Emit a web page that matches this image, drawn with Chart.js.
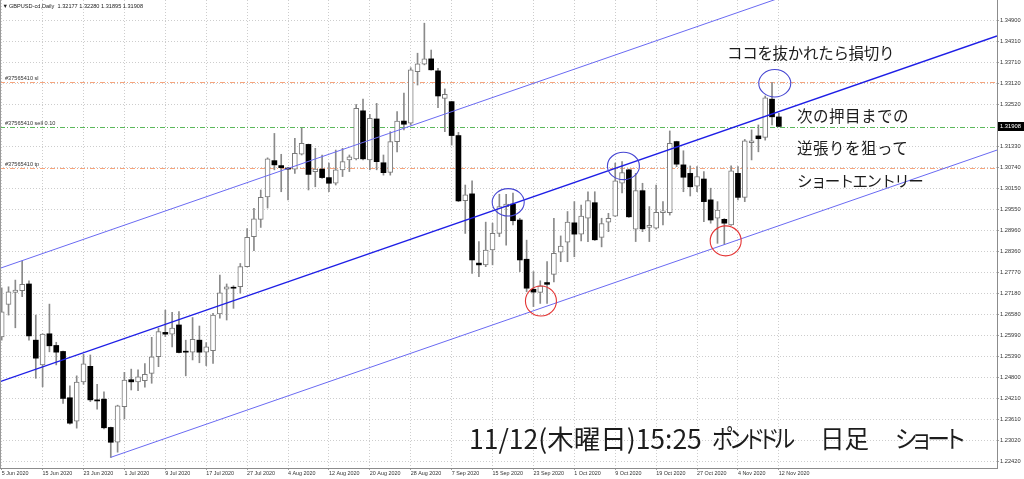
<!DOCTYPE html>
<html><head><meta charset="utf-8">
<script src="https://cdn.jsdelivr.net/npm/chart.js@4.4.1/dist/chart.umd.min.js"></script>
<style>
html,body{margin:0;padding:0;background:#fff;overflow:hidden;}
#wrap{position:relative;width:1024px;height:479px;background:#fff;}
canvas{position:absolute;left:0;top:0;}
.note{position:absolute;font-family:"Noto Sans CJK JP","Noto Sans",sans-serif;color:#1c1c1c;white-space:nowrap;line-height:1;}
.k{font-feature-settings:"palt";}
.seg{position:absolute;top:1px;font-size:24.5px;transform-origin:0 50%;}
</style></head><body>
<div id="wrap">
<canvas id="c" width="1024" height="479"></canvas>
<div class="note" style="left:727px;top:45px;font-size:15.5px;letter-spacing:-0.3px;">ココを抜かれたら損切り</div>
<div class="note" style="left:797px;top:108px;font-size:15.5px;letter-spacing:0.5px;">次の押目までの</div>
<div class="note" style="left:797px;top:140px;font-size:15.5px;letter-spacing:0.5px;">逆張りを狙って</div>
<div class="note" style="left:797px;top:173px;font-size:15.5px;letter-spacing:-1.6px;">ショートエントリー</div>
<div class="note" style="left:469px;top:425px;font-size:26.5px;">11/12(木曜日)15:25 <span class="seg k" style="left:243px;letter-spacing:-3.2px;transform:scaleX(0.88);">ポンドドル</span>　<span class="seg" style="left:351px;">日足</span>　<span class="seg k" style="left:426px;letter-spacing:-3px;transform:scaleX(0.93);">ショート</span></div>
</div>
<script>
// ---- data ----
const symbolTitle = 'GBPUSD-cd,Daily';
const dates = ('5 Jun 2020|8 Jun 2020|9 Jun 2020|10 Jun 2020|11 Jun 2020|12 Jun 2020|15 Jun 2020|16 Jun 2020|17 Jun 2020|18 Jun 2020|19 Jun 2020|22 Jun 2020|23 Jun 2020|24 Jun 2020|25 Jun 2020|26 Jun 2020|29 Jun 2020|30 Jun 2020|' +
 '1 Jul 2020|2 Jul 2020|3 Jul 2020|6 Jul 2020|7 Jul 2020|8 Jul 2020|9 Jul 2020|10 Jul 2020|13 Jul 2020|14 Jul 2020|15 Jul 2020|16 Jul 2020|17 Jul 2020|20 Jul 2020|21 Jul 2020|22 Jul 2020|23 Jul 2020|24 Jul 2020|27 Jul 2020|28 Jul 2020|29 Jul 2020|30 Jul 2020|31 Jul 2020|' +
 '3 Aug 2020|4 Aug 2020|5 Aug 2020|6 Aug 2020|7 Aug 2020|10 Aug 2020|11 Aug 2020|12 Aug 2020|13 Aug 2020|14 Aug 2020|17 Aug 2020|18 Aug 2020|19 Aug 2020|20 Aug 2020|21 Aug 2020|24 Aug 2020|25 Aug 2020|26 Aug 2020|27 Aug 2020|28 Aug 2020|31 Aug 2020|' +
 '1 Sep 2020|2 Sep 2020|3 Sep 2020|4 Sep 2020|7 Sep 2020|8 Sep 2020|9 Sep 2020|10 Sep 2020|11 Sep 2020|14 Sep 2020|15 Sep 2020|16 Sep 2020|17 Sep 2020|18 Sep 2020|21 Sep 2020|22 Sep 2020|23 Sep 2020|24 Sep 2020|25 Sep 2020|28 Sep 2020|29 Sep 2020|30 Sep 2020|' +
 '1 Oct 2020|2 Oct 2020|5 Oct 2020|6 Oct 2020|7 Oct 2020|8 Oct 2020|9 Oct 2020|12 Oct 2020|13 Oct 2020|14 Oct 2020|15 Oct 2020|16 Oct 2020|19 Oct 2020|20 Oct 2020|21 Oct 2020|22 Oct 2020|23 Oct 2020|26 Oct 2020|27 Oct 2020|28 Oct 2020|29 Oct 2020|30 Oct 2020|' +
 '2 Nov 2020|3 Nov 2020|4 Nov 2020|5 Nov 2020|6 Nov 2020|9 Nov 2020|10 Nov 2020|11 Nov 2020|12 Nov 2020').split('|');

const opens = [1.2595,1.2687,1.2721,1.2726,1.2745,1.2586,1.2516,1.2604,1.2571,1.2554,1.2423,1.2357,1.2468,1.2512,1.2417,1.2419,1.2339,1.2297,
 1.2398,1.2474,1.2468,1.2471,1.2492,1.2539,1.2608,1.2603,1.2629,1.2553,1.2552,1.2586,1.2552,1.2556,1.2660,1.2730,1.2735,1.2737,1.2794,1.2879,1.2928,1.2991,1.3094,
 1.3080,1.3073,1.3070,1.3112,1.3140,1.3063,1.3070,1.3046,1.3030,1.3068,1.3096,1.3099,1.3235,1.3096,1.3212,1.3088,1.3061,1.3148,1.3206,1.3200,1.3346,
 1.3367,1.3382,1.3348,1.3270,1.3261,1.3165,1.2981,1.3000,1.2804,1.2799,1.2841,1.2888,1.2964,1.2971,1.2926,1.2815,1.2730,1.2721,1.2749,1.2772,1.2835,1.2863,
 1.2918,1.2886,1.2931,1.2975,1.2877,1.2920,1.2937,1.3030,1.3068,1.2900,1.3009,1.2905,1.2903,1.2947,1.2947,1.3148,1.3082,1.3058,1.3022,1.3042,1.2983,1.2931,
 1.2928,1.2912,1.3058,1.2990,1.3145,1.3164,1.3160,1.3268,1.32177];
const highs = [1.2734,1.2737,1.2756,1.2810,1.2754,1.2657,1.2604,1.2688,1.2580,1.2555,1.2457,1.2485,1.2546,1.2544,1.2461,1.2440,1.2340,1.2402,
 1.2495,1.2504,1.2502,1.2520,1.2594,1.2620,1.2671,1.2665,1.2667,1.2586,1.2650,1.2626,1.2579,1.2662,1.2770,1.2745,1.2740,1.2803,1.2902,1.2959,1.3011,1.3102,1.3171,
 1.3112,1.3075,1.3157,1.3186,1.3141,1.3129,1.3110,1.3087,1.3124,1.3129,1.3110,1.3253,1.3268,1.3225,1.3256,1.3110,1.3176,1.3233,1.3285,1.3357,1.3398,
 1.3483,1.3407,1.3355,1.3297,1.3262,1.3174,1.3025,1.3037,1.2865,1.2920,1.2917,1.2999,1.2999,1.3002,1.2931,1.2869,1.2780,1.2754,1.2808,1.2931,1.2881,1.2950,
 1.2978,1.2968,1.3006,1.3006,1.2931,1.2945,1.3087,1.3091,1.3070,1.3058,1.3030,1.2964,1.3025,1.2978,1.3178,1.3149,1.3122,1.3079,1.3077,1.3063,1.3016,1.2978,
 1.2930,1.3079,1.3077,1.3154,1.3181,1.3195,1.3277,1.3315,1.32280];
const lows = [1.2586,1.2657,1.2621,1.2709,1.2586,1.2478,1.2454,1.2553,1.2516,1.2407,1.2348,1.2337,1.2461,1.2412,1.2391,1.2335,1.2254,1.2269,
 1.2363,1.2445,1.2443,1.2453,1.2464,1.2511,1.2596,1.2567,1.2550,1.2485,1.2530,1.2522,1.2514,1.2520,1.2648,1.2643,1.2676,1.2719,1.2793,1.2839,1.2905,1.2960,1.3068,
 1.3006,1.2983,1.3058,1.3110,1.3011,1.3020,1.3044,1.3006,1.3025,1.3049,1.3063,1.3096,1.3096,1.3068,1.3068,1.3053,1.3053,1.3119,1.3181,1.3195,1.3308,
 1.3365,1.3350,1.3244,1.3176,1.3138,1.2978,1.2888,1.2775,1.2766,1.2794,1.2799,1.2879,1.2855,1.2912,1.2780,1.2723,1.2681,1.2690,1.2690,1.2751,1.2808,1.2808,
 1.2822,1.2867,1.2865,1.2868,1.2850,1.2893,1.2936,1.3003,1.2933,1.2865,1.2893,1.2865,1.2900,1.2912,1.2940,1.3077,1.3006,1.2994,1.3006,1.2921,1.2917,1.2860,
 1.2857,1.2911,1.2983,1.2978,1.3096,1.3119,1.3152,1.3195,1.31895];
const closes = [1.2666,1.2723,1.2728,1.2744,1.2598,1.2535,1.2603,1.2570,1.2552,1.2421,1.2351,1.2467,1.2519,1.2417,1.2414,1.2338,1.2297,1.2400,
 1.2473,1.2468,1.2482,1.2489,1.2539,1.2610,1.2603,1.2620,1.2551,1.2552,1.2588,1.2552,1.2567,1.2657,1.2720,1.2737,1.2733,1.2794,1.2877,1.2929,1.2990,1.3099,1.3082,
 1.3074,1.3070,1.3115,1.3143,1.3055,1.3070,1.3046,1.3030,1.3068,1.3091,1.3105,1.3242,1.3099,1.3214,1.3091,1.3060,1.3148,1.3206,1.3197,1.3351,1.3368,
 1.3382,1.3351,1.3277,1.3282,1.3165,1.2980,1.2997,1.2813,1.2799,1.2841,1.2888,1.2964,1.2971,1.2924,1.2813,1.2733,1.2722,1.2740,1.2744,1.2832,1.2852,1.2920,
 1.2886,1.2937,1.2981,1.2870,1.2916,1.2931,1.3037,1.3060,1.2935,1.3009,1.2901,1.2911,1.2948,1.2952,1.3143,1.3084,1.3047,1.3020,1.3049,1.2978,1.2926,1.2954,
 1.2917,1.3065,1.2990,1.3150,1.3150,1.3156,1.3272,1.3218,1.31908];

const xTickLabels = ['5 Jun 2020','15 Jun 2020','23 Jun 2020','1 Jul 2020','9 Jul 2020','17 Jul 2020','27 Jul 2020','4 Aug 2020','12 Aug 2020','20 Aug 2020',
 '28 Aug 2020','7 Sep 2020','15 Sep 2020','23 Sep 2020','1 Oct 2020','9 Oct 2020','19 Oct 2020','27 Oct 2020','4 Nov 2020','12 Nov 2020'];
const yTickValues = [1.34900,1.34310,1.33710,1.33120,1.32520,1.31330,1.30740,1.30150,1.29550,1.28960,1.28360,1.27770,1.27180,1.26580,1.25990,1.25390,1.24800,1.24210,1.23610,1.23020,1.22420];

// order lines (price levels)
const orderLabels = ['#37565410 sl', '#37565410 sell 0.10', '#37565410 tp'];
const orderPrices = [1.3316, 1.3190, 1.3072];

// channel anchor points (bar index, price)
const channelMid = [{x:-0.25, y:1.24684}, {x:146, y:1.34467}];
const channelUpper = [{x:-0.25, y:1.27893}, {x:146, y:1.37676}];
const channelLower = [{x:16, y:1.22544}, {x:146, y:1.31239}];

// marked circles (bar index, price, kind)
const circleIdx = [74.3, 79.1, 91.2, 106.2, 113.4];
const circlePrice = [1.2976, 1.2697, 1.3079, 1.2867, 1.3313];
const circleKind = ['blue', 'red', 'blue', 'red', 'blue'];

// ---- styling / build ----
const lastIdx = closes.length - 1;
const tickIdx = xTickLabels.map(l => dates.indexOf(l));
const bodies = dates.map((d, i) => ({x: i, y: [opens[i], closes[i]]}));
const wicks = dates.map((d, i) => ({x: i, y: [lows[i], highs[i]]}));
const up = closes.map((c, i) => c >= opens[i]);
const circleStyle = {blue: {color: '#4646d2', rx: 16, ry: 13.7}, red: {color: '#e43434', rx: 15.5, ry: 15}};
const orderColors = ['#f7a47c', '#5cb85c', '#f7a47c'];
const smallFont = '"Liberation Sans", Arial, sans-serif';

const overlay = {
  id: 'overlay',
  beforeDatasetsDraw(chart) {
    const {ctx, chartArea: a, scales: {y}} = chart;
    ctx.save();
    orderPrices.forEach((p, i) => {
      const py = Math.round(y.getPixelForValue(p)) + 0.5;
      ctx.strokeStyle = orderColors[i];
      ctx.lineWidth = 1;
      ctx.setLineDash([5, 2, 1, 2]);
      ctx.beginPath(); ctx.moveTo(a.left, py); ctx.lineTo(a.right, py); ctx.stroke();
      ctx.setLineDash([]);
      ctx.fillStyle = '#333';
      ctx.font = '5.6px ' + smallFont;
      ctx.textBaseline = 'bottom';
      ctx.textAlign = 'left';
      ctx.fillText(orderLabels[i], a.left + 5, py - 1);
    });
    ctx.restore();
  },
  afterDatasetsDraw(chart) {
    const {ctx, scales: {x, y}} = chart;
    ctx.save();
    circleIdx.forEach((ix, i) => {
      const st = circleStyle[circleKind[i]];
      ctx.strokeStyle = st.color;
      ctx.lineWidth = 1.1;
      ctx.beginPath();
      ctx.ellipse(x.getPixelForValue(ix), y.getPixelForValue(circlePrice[i]), st.rx, st.ry, 0, 0, Math.PI * 2);
      ctx.stroke();
    });
    ctx.restore();
  },
  afterDraw(chart) {
    const {ctx, chartArea: a, scales: {y}} = chart;
    ctx.save();
    // left frame
    ctx.strokeStyle = '#9a9a9a'; ctx.lineWidth = 1;
    ctx.beginPath(); ctx.moveTo(0.5, a.top); ctx.lineTo(0.5, a.bottom); ctx.stroke();
    // header
    ctx.fillStyle = '#222';
    ctx.font = '5.6px ' + smallFont;
    ctx.textBaseline = 'middle'; ctx.textAlign = 'left';
    ctx.fillText('\u25BC', 2.5, 6);
    ctx.fillText(symbolTitle + '  ' + [opens[lastIdx], highs[lastIdx], lows[lastIdx], closes[lastIdx]].map(v => v.toFixed(5)).join(' '), 9, 6);
    // current price box
    const py = y.getPixelForValue(closes[lastIdx]);
    ctx.fillStyle = '#000';
    ctx.fillRect(a.right + 1, Math.round(py) - 4, 26, 9);
    ctx.fillStyle = '#fff';
    ctx.font = '5.8px ' + smallFont;
    ctx.fillText(closes[lastIdx].toFixed(5), a.right + 3, Math.round(py) + 0.5);
    ctx.restore();
  }
};

new Chart(document.getElementById('c'), {
  type: 'bar',
  data: {
    datasets: [
      {type: 'line', data: channelMid, borderColor: '#1e1ee6', borderWidth: 1.4, pointRadius: 0, fill: false, order: 0},
      {type: 'line', data: channelUpper, borderColor: '#6a6af2', borderWidth: 1, pointRadius: 0, fill: false, order: 0},
      {type: 'line', data: channelLower, borderColor: '#6a6af2', borderWidth: 1, pointRadius: 0, fill: false, order: 0},
      {data: bodies, backgroundColor: up.map(u => u ? '#ffffff' : '#000000'), borderColor: up.map(u => u ? '#7a7a7a' : '#000000'),
       borderWidth: up.map(u => u ? 1 : 0), borderSkipped: false, barThickness: 5, grouped: false, minBarLength: 1, order: 1},
      {data: wicks, backgroundColor: '#8a8a8a', borderWidth: 0, barThickness: 1, grouped: false, order: 2}
    ]
  },
  options: {
    responsive: false, animation: false, devicePixelRatio: 1,
    layout: {padding: 0},
    plugins: {legend: {display: false}, tooltip: {enabled: false}},
    scales: {
      x: {
        type: 'linear', min: -0.25, max: 146, offset: false,
        afterBuildTicks: s => { s.ticks = tickIdx.map(v => ({value: v})); },
        afterFit: s => { s.height = 11; s.paddingLeft = 0; s.paddingRight = 0; },
        ticks: {autoSkip: false, maxRotation: 0, minRotation: 0, align: 'start', padding: 0, color: '#333',
                font: {family: smallFont, size: 5.4}, callback: v => dates[v]},
        grid: {offset: false, color: '#cdcdcd', drawTicks: true, tickLength: 2, tickColor: '#a0a0a0', tickBorderDash: []},
        border: {display: true, color: '#8c8c8c', width: 1, dash: [1, 2]}
      },
      y: {
        position: 'right', min: 1.22242, max: 1.35486,
        afterBuildTicks: s => { s.ticks = yTickValues.map(v => ({value: v})); },
        afterFit: s => { s.width = 27; s.paddingTop = 0; s.paddingBottom = 0; },
        ticks: {autoSkip: false, padding: 1, color: '#333', font: {family: smallFont, size: 5.7}, callback: v => v.toFixed(5)},
        grid: {color: '#cdcdcd', drawTicks: true, tickLength: 2, tickColor: '#a0a0a0', tickBorderDash: []},
        border: {display: true, color: '#8c8c8c', width: 1, dash: [1, 2]}
      }
    }
  },
  plugins: [overlay]
});
</script>
</body></html>
